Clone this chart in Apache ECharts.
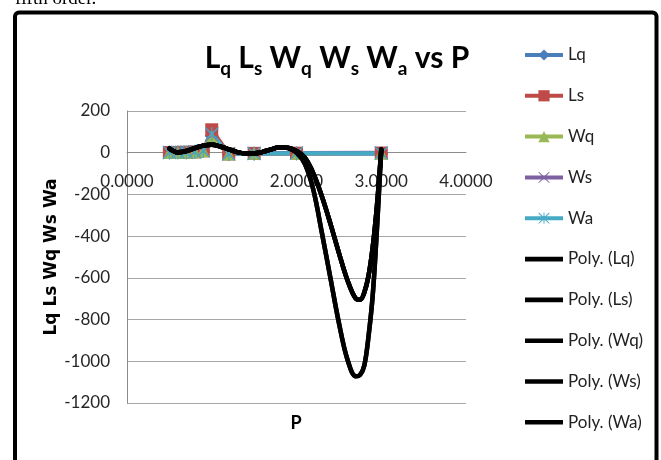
<!DOCTYPE html>
<html>
<head>
<meta charset="utf-8">
<script src="https://cdn.jsdelivr.net/npm/echarts@6/dist/echarts.min.js"></script>
<style>
html,body{margin:0;padding:0;background:#fff;}
#chart{width:661px;height:460px;}
</style>
</head>
<body>
<div id="chart"></div>
<script>
// ---- data ----
const dataX = [0.5, 0.6, 0.7, 0.8, 0.9, 1.0, 1.2, 1.5, 2.0, 3.0];
const lq = [0.5, 0.9, 1.6, 3.2, 8.1, 80, -7.2, -4.5, -4, -4.5];
const ls = [1, 1.5, 2.3, 4, 9, 110, -6, -3, -2, -1.5];
const wq = [1, 1.5, 2.3, 4, 9, 75, -6, -3, -2, -1.5];
const ws = [2, 2.5, 3.3, 5, 10, 85, -5, -2, -1, -0.5];
const wa = [1.5, 1.8, 2.5, 4.5, 9.5, 90, -6.5, -3.5, -3, -3];

const trendX = [0.5, 0.6, 0.7, 0.8, 0.9, 1.0, 1.1, 1.2, 1.3, 1.4, 1.5, 1.6, 1.7, 1.8, 1.9, 2.0,
                2.1, 2.2, 2.3, 2.4, 2.5, 2.6, 2.7, 2.75, 2.8, 2.85, 2.9, 2.95, 3.0];
const polyShallow = [20, 2, 8, 22, 34, 38, 30, 16, 3, -3, -3, 4, 16, 26, 24, 8,
                     -25, -100, -210, -340, -480, -610, -700, -705, -670, -590, -450, -250, 15];
const polyDeep = [20, 2, 8, 22, 34, 38, 30, 16, 3, -3, -3, 4, 16, 26, 22, 0,
                  -55, -180, -385, -600, -815, -990, -1072, -1065, -1020, -880, -680, -360, 15];

const xTicks = [0, 1, 2, 3, 4];
const yTicks = [-1200, -1000, -800, -600, -400, -200, 0, 200];

const seriesNames = ['Lq', 'Ls', 'Wq', 'Ws', 'Wa'];
const polyNames = ['Poly. (Lq)', 'Poly. (Ls)', 'Poly. (Wq)', 'Poly. (Ws)', 'Poly. (Wa)'];

// ---- styling ----
const FONT = "Lato, 'Open Sans', sans-serif";
const colors = ['#4A7EBB', '#BE4B48', '#98B954', '#7D60A0', '#46AAC5'];
const xPath = 'path://M1,0L10,8.5L19,0L20,1L11.5,10L20,19L19,20L10,11.5L1,20L0,19L8.5,10L0,1Z';
const starPath = 'path://M1,0L10,8.5L19,0L20,1L11.5,10L20,19L19,20L10,11.5L1,20L0,19L8.5,10L0,1Z M9.2,0L10.8,0L10.8,20L9.2,20Z';
const symbols = ['diamond', 'rect', 'triangle', xPath, starPath];
const symbolSizes = [14, 13, 13, 13, 14];
const valuesList = [lq, ls, wq, ws, wa];
const polyList = [polyShallow, polyDeep, polyShallow, polyDeep, polyShallow];
const barIcon = 'path://M0,0L38,0L38,0.01L0,0.01Z M0,4.8L38,4.8L38,9.4L0,9.4Z M0,14L38,14L38,14.01L0,14.01Z';

const yAxisPixelRange = 403 - 111;
const zeroOffset = -yAxisPixelRange * (0 - yTicks[0]) / (yTicks[yTicks.length - 1] - yTicks[0]);

const series = [];
seriesNames.forEach((name, k) => {
  series.push({
    name: name,
    type: 'line',
    data: dataX.map((x, i) => [x, valuesList[k][i]]),
    symbol: symbols[k],
    symbolSize: symbolSizes[k],
    showSymbol: true,
    showAllSymbol: true,
    lineStyle: { color: colors[k], width: 4 },
    itemStyle: { color: colors[k] },
    z: 2,
    silent: true
  });
});
polyNames.forEach((name, k) => {
  series.push({
    name: name,
    type: 'line',
    data: trendX.map((x, i) => [x, polyList[k][i]]),
    symbol: 'none',
    smooth: 0.35,
    lineStyle: { color: '#000', width: 4.5, cap: 'round', join: 'round' },
    itemStyle: { color: '#000' },
    z: 3,
    silent: true
  });
});

const legendData = seriesNames.map(n => ({ name: n }))
  .concat(polyNames.map(n => ({ name: n, icon: barIcon, itemStyle: { color: '#000', borderWidth: 0 } })));

const chart = echarts.init(document.getElementById('chart'), null, { renderer: 'canvas' });
chart.setOption({
  animation: false,
  backgroundColor: '#fff',
  grid: { left: 127, right: 195, top: 111, bottom: 57 },
  xAxis: {
    type: 'value',
    min: xTicks[0],
    max: xTicks[xTicks.length - 1],
    interval: 1,
    position: 'bottom',
    offset: zeroOffset,
    axisLine: { show: true, onZero: false, lineStyle: { color: '#8c8c8c', width: 1 } },
    axisTick: { show: false },
    splitLine: { show: false },
    axisLabel: {
      margin: 20,
      formatter: v => v.toFixed(4),
      fontFamily: FONT,
      fontSize: 17,
      color: '#262626'
    }
  },
  yAxis: {
    type: 'value',
    min: yTicks[0],
    max: yTicks[yTicks.length - 1],
    interval: 200,
    axisLine: { show: true, onZero: false, lineStyle: { color: '#8c8c8c', width: 1 } },
    axisTick: { show: false },
    splitLine: { show: true, lineStyle: { color: '#a6a6a6', width: 1 } },
    axisLabel: {
      margin: 17,
      formatter: v => String(v),
      fontFamily: FONT,
      fontSize: 17,
      color: '#262626'
    }
  },
  legend: {
    orient: 'vertical',
    left: 518,
    top: 40,
    itemWidth: 38,
    itemHeight: 14,
    itemGap: 20.8,
    data: legendData,
    lineStyle: { width: 4 },
    textStyle: { fontFamily: FONT, fontSize: 17, lineHeight: 20, color: '#222' },
    selectedMode: false
  },
  graphic: [
    {
      type: 'text', x: 15, y: -0.5, silent: true,
      style: { text: 'fifth order.', font: "19px 'Liberation Serif', serif", fill: '#000', textVerticalAlign: 'middle' }
    },
    {
      type: 'rect', silent: true, z: 100,
      shape: { x: 15, y: 12.5, width: 641.5, height: 470, r: 4 },
      style: { fill: 'none', stroke: '#000', lineWidth: 4 }
    },
    {
      type: 'text', x: 337, y: 58.5, silent: true,
      style: {
        text: '{m|L}{s|q}{m| L}{s|s}{m| W}{s|q}{m| W}{s|s}{m| W}{s|a}{m| vs P}',
        textAlign: 'center',
        textVerticalAlign: 'middle',
        rich: {
          m: { fontFamily: FONT, fontWeight: 'bold', fontSize: 30, lineHeight: 40, fill: '#000', verticalAlign: 'middle' },
          s: { fontFamily: FONT, fontWeight: 'bold', fontSize: 19, lineHeight: 20, fill: '#000', verticalAlign: 'bottom' }
        }
      }
    },
    {
      type: 'text', x: 52, y: 257, rotation: Math.PI / 2, silent: true,
      style: {
        text: 'Lq Ls Wq Ws Wa',
        font: "bold 17px 'DejaVu Sans', sans-serif",
        fill: '#000',
        textAlign: 'center',
        textVerticalAlign: 'middle'
      }
    },
    {
      type: 'text', x: 296, y: 423, silent: true,
      style: {
        text: 'P',
        font: "bold 18px Lato, sans-serif",
        fill: '#000',
        textAlign: 'center',
        textVerticalAlign: 'middle'
      }
    }
  ],
  series: series
});
</script>
</body>
</html>
